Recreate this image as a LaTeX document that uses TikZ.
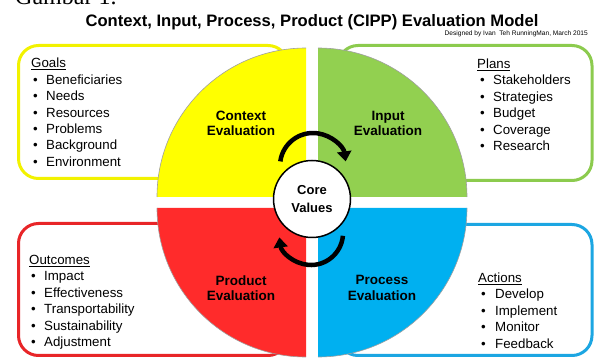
\documentclass[tikz,border=0pt]{standalone}
\usepackage{fontspec}
\setmainfont{Liberation Sans}
\newfontfamily\seriffont{Liberation Serif}
\usetikzlibrary{arrows.meta}
\definecolor{qyel}{HTML}{FFFF00}
\definecolor{qgrn}{HTML}{92D050}
\definecolor{qred}{HTML}{FF2B2B}
\definecolor{qblu}{HTML}{00B0F0}
\definecolor{byel}{HTML}{F2F200}
\definecolor{bgrn}{HTML}{8CCB4E}
\definecolor{bred}{HTML}{E82528}
\definecolor{bblu}{HTML}{1CA6E2}
\begin{document}
\begin{tikzpicture}[x=1pt,y=1pt,
  box/.style={line width=3pt, rounded corners=20pt, fill=white},
  quad/.style={draw=gray!75, line width=0.6pt},
  item/.style={anchor=base west, inner sep=0pt, font=\fontsize{13.3}{15}\selectfont},
  qlabel/.style={align=center, font=\bfseries\fontsize{13.5}{15.5}\selectfont},
  cyc/.style={line width=4.5pt, -{Triangle[length=10pt,width=14pt]}}
]
\useasboundingbox (0,0) rectangle (595,359);
% boxes
\draw[box, draw=byel] (18.5,180.5) rectangle (288,313.5);
\draw[box, draw=bgrn] (338,178.5) rectangle (592,313.5);
\draw[box, draw=bred] (18.5,3.5) rectangle (288,135.5);
\draw[box, draw=bblu] (338,3.5) rectangle (592,134.5);
% quadrants
\fill[qyel] (306,162) -- ++(-149,0) arc (180:90:149) -- cycle;
\draw[quad] (157,162) arc (180:90:149);
\fill[qgrn] (318,162) -- ++(0,149) arc (90:0:149) -- cycle;
\draw[quad] (318,311) arc (90:0:149);
\fill[qred] (306,151) -- ++(-149,0) arc (180:270:149) -- cycle;
\draw[quad] (157,151) arc (180:270:149);
\fill[qblu] (318,151) -- ++(149,0) arc (0:-90:149) -- cycle;
\draw[quad] (467,151) arc (0:-90:149);
% core
\node[draw, circle, line width=1.5pt, fill=white, minimum size=77pt, inner sep=0pt,
      align=center, font=\bfseries\fontsize{13}{18}\selectfont] (core) at (312,160) {Core\\Values};
% cycle arrows
\coordinate (a1) at (280.3,197.6);
\coordinate (a2) at (342.9,123.2);
\draw[cyc] (a1) arc (172:8:33);
\draw[cyc] (a2) arc (-5:-172:32);
% quadrant labels
\node[qlabel] (ctx) at (241,235.5) {Context\\Evaluation};
\node[qlabel] (inp) at (388,235.5) {Input\\Evaluation};
\node[qlabel] (prd) at (241,71) {Product\\Evaluation};
\node[qlabel] (prc) at (382,71) {Process\\Evaluation};
% title
\node[anchor=base, inner sep=0pt, font=\bfseries\fontsize{16.6}{19}\selectfont] (title) at (312,332)
  {Context, Input, Process, Product (CIPP) Evaluation Model};
\node[anchor=base east, inner sep=0pt, font=\fontsize{6.6}{7}\selectfont] (credit) at (588,323)
  {Designed by Ivan~~Teh RunningMan, March 2015};
\node[anchor=base west, inner sep=0pt, font=\seriffont\fontsize{24}{26}\selectfont] (gambar) at (15,354) {Gambar 1.};
% Goals
\node[item] (gh) at (31,291) {\underline{Goals}};
\foreach \t [count=\i from 0] in {Beneficiaries,Needs,Resources,Problems,Background,Environment}{
  \node[item] (gb\i) at (33,274.7-16.4*\i) {•};
  \node[item] (gt\i) at (46,274.7-16.4*\i) {\t};
}
% Plans
\node[item] (ph) at (477,290.7) {\underline{Plans}};
\foreach \t [count=\i from 0] in {Stakeholders,Strategies,Budget,Coverage,Research}{
  \node[item] (pb\i) at (480,274-16.4*\i) {•};
  \node[item] (pt\i) at (493,274-16.4*\i) {\t};
}
% Outcomes
\node[item] (oh) at (29,94) {\underline{Outcomes}};
\foreach \t [count=\i from 0] in {Impact,Effectiveness,Transportability,Sustainability,Adjustment}{
  \node[item] (ob\i) at (31,78-16.4*\i) {•};
  \node[item] (ot\i) at (44,78-16.4*\i) {\t};
}
% Actions
\node[item] (ah) at (478,76.3) {\underline{Actions}};
\foreach \t [count=\i from 0] in {Develop,Implement,Monitor,Feedback}{
  \node[item] (ab\i) at (481,60-16.4*\i) {•};
  \node[item] (at\i) at (495,60-16.4*\i) {\t};
}
\end{tikzpicture}
\end{document}
